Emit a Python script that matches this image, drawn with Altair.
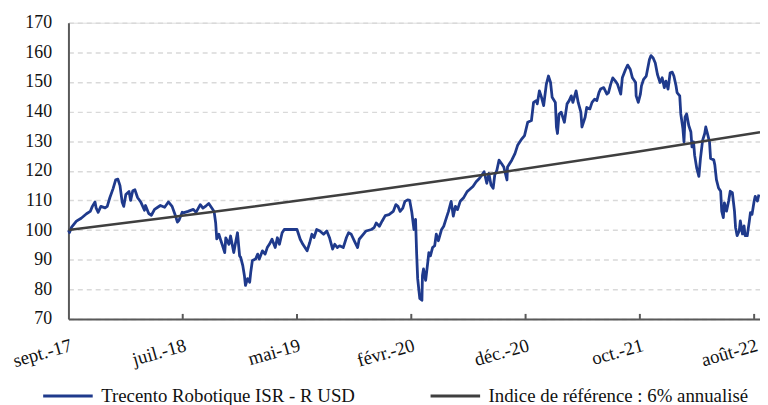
import altair as alt
import pandas as pd

# Tick labels of the category axis (one every 215 trading days)
tick_labels = ["sept.-17", "juil.-18", "mai-19", "févr.-20", "déc.-20", "oct.-21", "août-22"]
tick_days = [0, 215, 430, 645, 860, 1075, 1290]

serie_fonds = "Trecento Robotique ISR - R USD"
serie_indice = "Indice de référence : 6% annualisé"

# Fund series (trading-day index, value)
fonds_jour = [0, 2, 6, 15, 24, 34, 41, 45, 50, 52, 56, 61, 69, 73, 78, 84, 89, 93, 97, 101,
              104, 108, 114, 117, 121, 125, 130, 136, 143, 145, 151, 156, 162, 168, 173, 181, 188, 195, 201, 205,
              208, 214, 216, 225, 235, 240, 248, 253, 259, 264, 270, 274, 277, 279, 283, 287, 290, 294, 296, 302,
              305, 311, 315, 318, 322, 324, 328, 331, 333, 337, 341, 343, 346, 352, 356, 359, 365, 370, 374, 378,
              383, 389, 393, 397, 402, 406, 415, 426, 430, 436, 441, 449, 454, 458, 462, 467, 473, 480, 486, 491,
              497, 501, 506, 510, 517, 523, 527, 532, 538, 544, 547, 555, 560, 570, 575, 579, 585, 590, 596, 603,
              611, 616, 620, 624, 629, 633, 638, 642, 646, 650, 653, 655, 657, 659, 661, 665, 666, 668, 672, 676,
              678, 681, 685, 689, 692, 696, 702, 706, 711, 715, 720, 724, 728, 732, 737, 743, 750, 754, 761, 767,
              773, 778, 782, 787, 791, 795, 799, 802, 806, 810, 815, 819, 825, 826, 834, 840, 845, 853, 858, 864,
              871, 875, 880, 882, 886, 890, 894, 899, 903, 907, 910, 916, 918, 920, 923, 927, 933, 938, 942, 946,
              949, 955, 959, 964, 966, 972, 975, 981, 985, 990, 994, 998, 1001, 1007, 1013, 1016, 1020, 1024, 1029, 1033,
              1039, 1042, 1048, 1052, 1057, 1061, 1067, 1068, 1072, 1076, 1078, 1082, 1087, 1093, 1096, 1100, 1104, 1108, 1113, 1117,
              1121, 1124, 1128, 1132, 1136, 1139, 1143, 1145, 1150, 1152, 1156, 1158, 1160, 1163, 1167, 1171, 1173, 1176, 1178, 1182,
              1186, 1189, 1193, 1197, 1199, 1203, 1206, 1208, 1214, 1216, 1219, 1223, 1227, 1229, 1232, 1234, 1238, 1242, 1245, 1249,
              1253, 1255, 1258, 1262, 1264, 1268, 1271, 1273, 1277, 1281, 1283, 1286, 1290, 1292, 1296, 1299]
fonds_valeur = [100.0, 99.2, 101.0, 103.0, 104.0, 105.5, 106.3, 108.0, 109.5, 107.5, 106.0, 108.0, 107.5, 108.0, 111.0, 114.0, 117.0, 117.2, 115.0, 109.5,
                108.0, 112.0, 113.0, 110.0, 113.3, 113.6, 111.0, 109.5, 106.7, 108.3, 105.6, 105.0, 107.0, 107.7, 108.3, 107.7, 109.5, 108.0, 105.0, 102.7,
                103.3, 106.0, 105.8, 106.3, 107.0, 106.0, 108.6, 107.4, 108.2, 109.0, 107.4, 106.3, 102.4, 97.0, 98.6, 96.3, 94.7, 92.4, 97.4, 95.2,
                98.0, 92.4, 96.3, 99.1, 91.3, 90.8, 88.0, 84.7, 81.3, 83.6, 82.4, 85.8, 89.7, 90.2, 91.9, 90.2, 93.0, 91.9, 94.1, 95.2,
                96.9, 94.1, 97.4, 95.2, 99.1, 100.2, 100.2, 100.2, 100.2, 96.9, 95.2, 93.0, 95.8, 98.6, 97.5, 100.2, 99.7, 98.6, 99.7, 97.5,
                93.6, 95.2, 94.1, 94.7, 94.1, 97.5, 99.1, 98.6, 96.3, 94.1, 96.9, 98.6, 99.7, 100.2, 100.8, 102.4, 101.3, 103.0, 104.9, 105.2,
                106.3, 108.6, 108.0, 106.3, 107.4, 109.7, 110.2, 110.0, 106.0, 100.2, 103.6, 92.4, 83.6, 80.2, 76.9, 76.3, 84.7, 86.9, 83.0, 89.1,
                92.4, 91.3, 94.1, 94.7, 98.6, 96.4, 100.2, 101.3, 104.1, 106.3, 109.7, 104.7, 108.0, 106.9, 109.7, 110.8, 113.0, 113.6, 114.7, 116.3,
                117.4, 118.6, 119.7, 115.8, 119.1, 115.2, 114.1, 118.6, 120.2, 123.6, 122.4, 121.3, 116.9, 121.3, 123.6, 125.8, 128.6, 130.8, 131.9, 136.4,
                137.0, 143.1, 143.7, 142.6, 147.0, 144.8, 142.0, 149.2, 152.0, 149.8, 144.8, 143.1, 134.8, 132.6, 139.2, 139.8, 136.4, 142.6, 143.7, 145.3,
                143.1, 147.0, 143.1, 139.8, 134.8, 138.1, 141.4, 140.9, 143.1, 144.2, 143.7, 146.4, 147.6, 148.1, 145.9, 146.4, 149.2, 151.4, 150.3, 149.2,
                145.9, 151.4, 154.2, 155.7, 154.2, 151.4, 149.8, 145.3, 143.1, 145.9, 148.7, 150.9, 152.0, 157.6, 158.9, 158.1, 156.4, 152.6, 149.8, 151.4,
                148.1, 150.3, 147.6, 153.1, 153.3, 152.0, 148.7, 146.4, 145.3, 139.2, 134.2, 129.8, 138.1, 139.2, 135.3, 133.1, 128.1, 129.8, 125.3, 120.9,
                118.1, 124.2, 130.3, 132.6, 134.8, 132.0, 129.8, 124.2, 123.7, 122.0, 117.0, 114.2, 113.1, 106.4, 104.2, 109.2, 106.4, 109.8, 113.1, 112.6,
                106.4, 100.9, 98.1, 99.8, 103.1, 98.7, 101.4, 98.1, 98.1, 103.1, 105.9, 105.3, 109.8, 111.4, 109.8, 112.0]

# Benchmark: 6% per year, compounded
indice_jour = [0, 266, 532, 798, 1064, 1301]
indice_valeur = [100.0, 106.0, 112.36, 119.1, 126.25, 133.0]

y_values = [70, 80, 90, 100, 110, 120, 130, 140, 150, 160, 170]

df_fonds = pd.DataFrame({"jour": fonds_jour, "valeur": fonds_valeur, "serie": serie_fonds})
df_indice = pd.DataFrame({"jour": indice_jour, "valeur": indice_valeur, "serie": serie_indice})
# inward x-axis tick marks: from the axis (70) up a short way
df_ticks = pd.DataFrame({"jour": tick_days[1:], "valeur": 70.0, "haut": 71.7})

FONT = "Liberation Serif"
label_arr = "[" + ",".join("'" + s + "'" for s in tick_labels) + "]"

x_axis = alt.Axis(
    values=tick_days,
    labelExpr=label_arr + "[round(datum.value / 215)]",
    labelAngle=344,
    labelAlign="right",
    labelBaseline="top",
    labelPadding=17,
    labelOverlap=False,
    labelBound=False,
    labelFlush=False,
    ticks=False,
    grid=False,
    domainColor="#595959",
    domainWidth=2,
    title=None,
    labelFont=FONT,
    labelFontSize=19,
    labelColor="#111111",
)
y_axis = alt.Axis(
    values=y_values,
    tickCount=11,
    grid=True,
    gridDash=[5, 4],
    gridColor="#d9d9d9",
    gridWidth=1.5,
    ticks=False,
    domainColor="#595959",
    domainWidth=2,
    labelPadding=17,
    labelOverlap=False,
    labelBound=False,
    labelFlush=False,
    title=None,
    labelFont=FONT,
    labelFontSize=18,
    labelColor="#111111",
)
x_scale = alt.Scale(domain=[0, 1301], nice=False, zero=False)
y_scale = alt.Scale(domain=[70, 170], nice=False, zero=False)

x_enc = alt.X("jour:Q", scale=x_scale, axis=x_axis)
y_enc = alt.Y("valeur:Q", scale=y_scale, axis=y_axis)

color_enc = alt.Color(
    "serie:N",
    scale=alt.Scale(domain=[serie_fonds, serie_indice], range=["#1f3a8c", "#3f3f3f"]),
    legend=alt.Legend(
        orient="none",
        legendX=-27,
        legendY=350,
        direction="horizontal",
        title=None,
        symbolType="stroke",
        symbolSize=2500,
        symbolStrokeWidth=3,
        labelFont=FONT,
        labelFontSize=19,
        labelColor="#111111",
        labelOffset=7,
        labelLimit=400,
        columnPadding=69,
        padding=0,
    ),
)

fonds = alt.Chart(df_fonds).mark_line(strokeWidth=2.8, strokeJoin="round").encode(
    x=x_enc, y=y_enc, color=color_enc
)
indice = alt.Chart(df_indice).mark_line(strokeWidth=2.5).encode(
    x=x_enc, y=y_enc, color=color_enc
)
ticks = alt.Chart(df_ticks).mark_rule(color="#595959", strokeWidth=2).encode(
    x=x_enc, y=y_enc, y2="haut:Q"
)

chart = (
    alt.layer(fonds, indice, ticks)
    .properties(
        width=698,
        height=299,
        autosize=alt.AutoSizeParams(type="none"),
        padding={"left": 61, "top": 13, "right": 0, "bottom": 85},
    )
    .configure_view(stroke=None)
    .configure(background="white")
)

chart.save("out.html", embed_options={"renderer": "svg", "actions": False})
